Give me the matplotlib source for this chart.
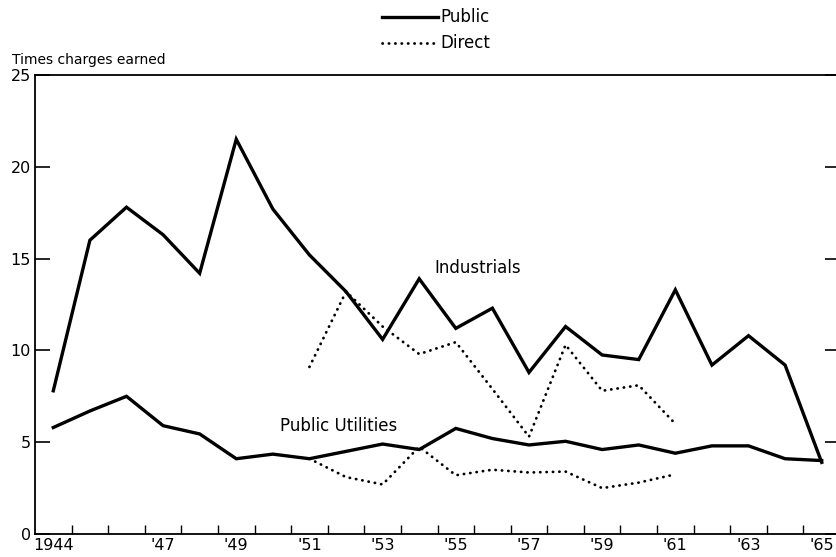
import numpy as np
import matplotlib
matplotlib.use('Agg')
from matplotlib import pyplot as plt

years = np.arange(1944, 1966)
years_direct = np.arange(1951, 1962)

# industrials, public offerings (solid)
ind_public = [7.8, 16.0, 17.8, 16.3, 14.2, 21.5, 17.7, 15.2, 13.2, 10.6, 13.9,
              11.2, 12.3, 8.8, 11.3, 9.75, 9.5, 13.3, 9.2, 10.8, 9.2, 3.9]
# industrials, direct placements (dotted)
ind_direct = [9.1, 13.2, 11.3, 9.8, 10.45, 7.9, 5.3, 10.3, 7.8, 8.1, 6.0]
# public utilities, public offerings (solid)
util_public = [5.8, 6.7, 7.5, 5.9, 5.45, 4.1, 4.35, 4.1, 4.5, 4.9, 4.6,
               5.75, 5.2, 4.85, 5.05, 4.6, 4.85, 4.4, 4.8, 4.8, 4.1, 4.0]
# public utilities, direct placements (dotted)
util_direct = [4.1, 3.1, 2.7, 4.75, 3.2, 3.5, 3.35, 3.4, 2.5, 2.8, 3.25]

tick_years = [1944, 1947, 1949, 1951, 1953, 1955, 1957, 1959, 1961, 1963, 1965]
tick_labels = ['1944', "'47", "'49", "'51", "'53", "'55", "'57", "'59", "'61", "'63", "'65"]

plt.rcParams['font.family'] = ['DejaVu Sans']

fig = plt.figure(figsize=(8.37, 5.57), dpi=100)
ax = fig.add_axes([35/837, 23/557, 805/837, 459/557])

dot = (0, (0.1, 2.2))
ax.plot(years, ind_public, color='black', lw=2.4, solid_joinstyle='miter')
ax.plot(years_direct, ind_direct, color='black', lw=2.0, ls=dot, dash_capstyle='round')
ax.plot(years, util_public, color='black', lw=2.4, solid_joinstyle='miter')
ax.plot(years_direct, util_direct, color='black', lw=2.0, ls=dot, dash_capstyle='round')

ax.set_xlim(1943.5, 1965.5)
ax.set_ylim(0, 25)

ax.set_yticks([0, 5, 10, 15, 20, 25])
ax.tick_params(axis='y', which='major', direction='in', length=11, width=1.2,
               labelsize=11.5, right=True, pad=3)
ax.set_xticks(tick_years)
ax.set_xticklabels(tick_labels)
ax.set_xticks(np.arange(1944.5, 1965, 1), minor=True)
ax.tick_params(axis='x', which='major', length=0, labelsize=11.5, pad=3)
ax.tick_params(axis='x', which='minor', direction='in', length=6.5, width=1.0)

for s in ax.spines.values():
    s.set_linewidth(1.3)

ax.text(1955.6, 14.5, 'Industrials', fontsize=12, ha='center', va='center')
ax.text(1951.8, 5.9, 'Public Utilities', fontsize=12, ha='center', va='center')

fig.text(12/837, 1 - 60/557, 'Times charges earned', fontsize=10, ha='left', va='center')

# legend drawn by hand at top
fig.lines.append(plt.Line2D([382/837, 438/837], [1 - 17/557, 1 - 17/557],
                            transform=fig.transFigure, color='black', lw=2.4))
fig.lines.append(plt.Line2D([382/837, 438/837], [1 - 43/557, 1 - 43/557],
                            transform=fig.transFigure, color='black', lw=2.0, ls=dot,
                            dash_capstyle='round'))
fig.text(440/837, 1 - 17/557, 'Public', fontsize=12, ha='left', va='center')
fig.text(440/837, 1 - 43/557, 'Direct', fontsize=12, ha='left', va='center')

fig.savefig('out.png', dpi=100)
